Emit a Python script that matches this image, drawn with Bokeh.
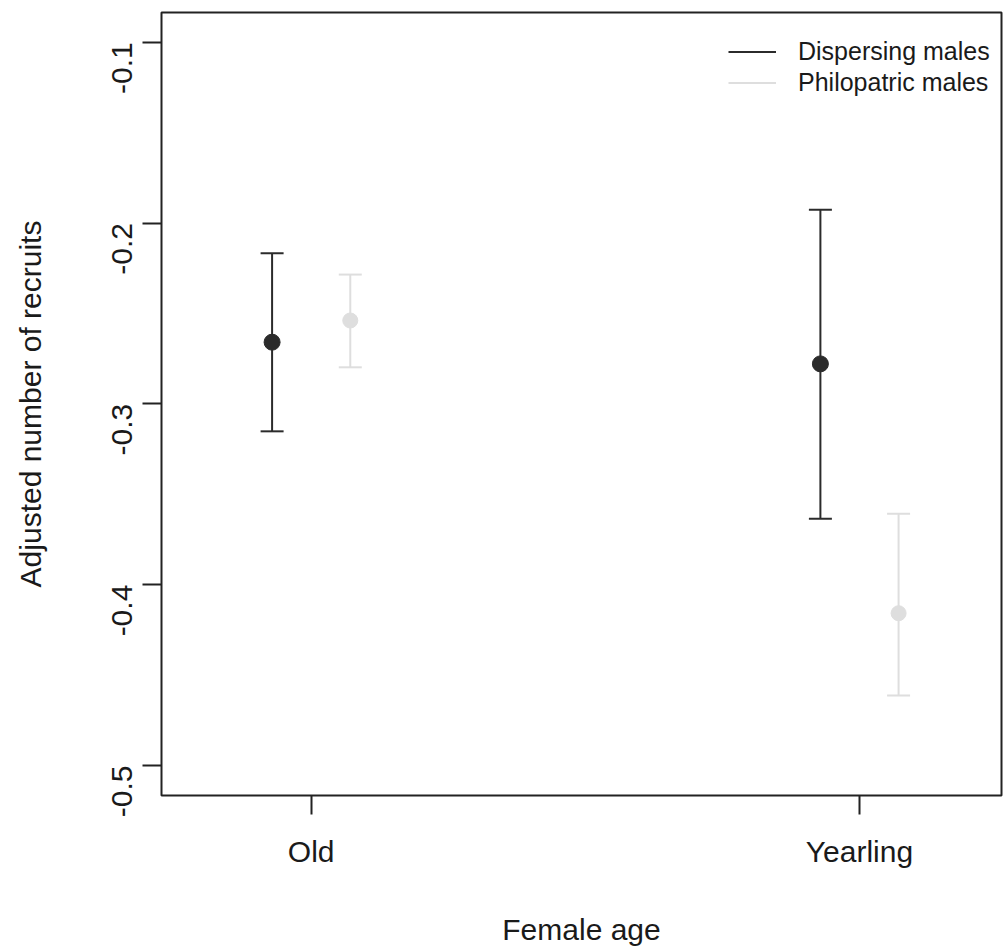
import math
from bokeh.plotting import figure
from bokeh.models import (ColumnDataSource, FixedTicker, Legend, LegendItem, Range1d)
from bokeh.embed import file_html
from bokeh.resources import INLINE

# ---- data ----
categories = ["Old", "Yearling"]
series = ["Dispersing males", "Philopatric males"]
disp_mean = [-0.2659, -0.2779]
disp_upper = [-0.2167, -0.1927]
disp_lower = [-0.3152, -0.3636]
phil_mean = [-0.2539, -0.4158]
phil_upper = [-0.2285, -0.3608]
phil_lower = [-0.2798, -0.4613]
y_ticks = [-0.5, -0.4, -0.3, -0.2, -0.1]
y_tick_labels = ["-0.5", "-0.4", "-0.3", "-0.2", "-0.1"]

# ---- styling ----
DARK = "#2b2b2b"
LIGHT = "#dedede"
FONT = "Liberation Sans"
DODGE = 0.0713

xpos = [i + 1 for i in range(len(categories))]

p = figure(width=1003, height=948, output_backend="svg", toolbar_location=None,
           x_range=Range1d(0.727, 2.259), y_range=Range1d(-0.5166, -0.08357),
           min_border_left=161, min_border_top=12, min_border_bottom=153,
           min_border_right=2)
p.grid.visible = False
p.outline_line_color = "#222222"
p.outline_line_width = 2
p.background_fill_color = "white"
p.border_fill_color = "white"

renderers = {}
for name, mean, up, lo, col, size, off in [
    (series[0], disp_mean, disp_upper, disp_lower, DARK, 16, -DODGE),
    (series[1], phil_mean, phil_upper, phil_lower, LIGHT, 15, DODGE),
]:
    xs = [x + off for x in xpos]
    src = ColumnDataSource(dict(x=xs, mean=mean, up=up, lo=lo))
    r = p.segment(x0="x", y0="lo", x1="x", y1="up", source=src,
                  line_color=col, line_width=2)
    p.scatter(x="x", y="up", source=src, marker="dash", size=23,
              line_color=col, line_width=2)
    p.scatter(x="x", y="lo", source=src, marker="dash", size=23,
              line_color=col, line_width=2)
    p.scatter(x="x", y="mean", source=src, marker="circle", size=size,
              fill_color=col, line_color=col)
    renderers[name] = r

# axes
p.xaxis.ticker = FixedTicker(ticks=xpos)
p.xaxis.major_label_overrides = {x: c for x, c in zip(xpos, categories)}
p.yaxis.ticker = FixedTicker(ticks=y_ticks)
p.yaxis.major_label_overrides = {v: l for v, l in zip(y_ticks, y_tick_labels)}
p.yaxis.major_label_orientation = math.pi / 2

for ax in (p.xaxis[0], p.yaxis[0]):
    ax.axis_line_color = None
    ax.major_tick_in = 0
    ax.major_tick_out = 19
    ax.major_tick_line_width = 2
    ax.major_tick_line_color = "#222222"
    ax.minor_tick_line_color = None
    ax.major_label_text_font = FONT
    ax.major_label_text_font_size = "30px"
    ax.major_label_text_color = "#1a1a1a"
    ax.axis_label_text_font = FONT
    ax.axis_label_text_font_size = "30px"
    ax.axis_label_text_font_style = "normal"
    ax.axis_label_text_color = "#1a1a1a"

p.xaxis.axis_label = "Female age"
p.yaxis.axis_label = "Adjusted number of recruits"
p.xaxis.major_label_standoff = 20
p.xaxis.axis_label_standoff = 42
p.yaxis.major_label_standoff = 20
p.yaxis.axis_label_standoff = 53

legend = Legend(items=[LegendItem(label=s, renderers=[renderers[s]]) for s in series],
                location=(562, 693), padding=5, margin=0, spacing=2,
                glyph_width=48, glyph_height=29, label_height=29,
                label_standoff=22, label_text_font=FONT,
                label_text_font_size="25px", label_text_color="#1a1a1a",
                background_fill_alpha=0, border_line_alpha=0)
p.add_layout(legend)

open("out.html", "w").write(file_html(p, INLINE))
